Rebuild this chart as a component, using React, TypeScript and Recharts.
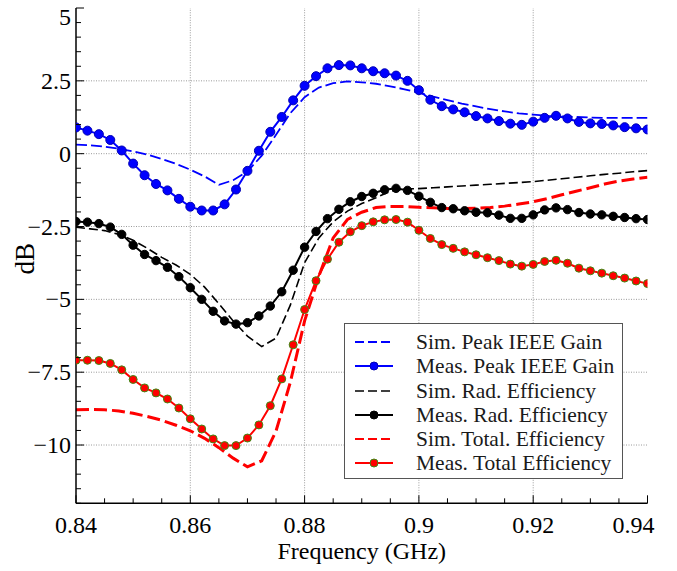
import React from 'react';
import { LineChart, Line, XAxis, YAxis, ReferenceLine } from 'recharts';

/* ------------------------------------------------------------------ */
/*  Data                                      */
/* ------------------------------------------------------------------ */

// measurement sweep, 2 MHz step
const measFreq = [
  0.84, 0.842, 0.844, 0.846, 0.848, 0.85, 0.852, 0.854, 0.856, 0.858,
  0.86, 0.862, 0.864, 0.866, 0.868, 0.87, 0.872, 0.874, 0.876, 0.878,
  0.88, 0.882, 0.884, 0.886, 0.888, 0.89, 0.892, 0.894, 0.896, 0.898,
  0.9, 0.902, 0.904, 0.906, 0.908, 0.91, 0.912, 0.914, 0.916, 0.918,
  0.92, 0.922, 0.924, 0.926, 0.928, 0.93, 0.932, 0.934, 0.936, 0.938,
  0.94,
];
const measGain = [
  0.9, 0.79, 0.67, 0.47, 0.11, -0.34, -0.74, -1.04, -1.26, -1.55,
  -1.82, -1.95, -1.95, -1.74, -1.23, -0.59, 0.1, 0.75, 1.26, 1.83,
  2.33, 2.66, 2.93, 3.04, 3.03, 2.93, 2.83, 2.76, 2.68, 2.5,
  2.18, 1.85, 1.63, 1.52, 1.42, 1.29, 1.21, 1.12, 1.03, 0.99,
  1.1, 1.23, 1.3, 1.21, 1.09, 1.04, 1.02, 0.97, 0.91, 0.87,
  0.83,
];
const measRad = [
  -2.33, -2.35, -2.4, -2.52, -2.77, -3.14, -3.46, -3.67, -3.9, -4.22,
  -4.6, -5.0, -5.41, -5.74, -5.85, -5.8, -5.57, -5.23, -4.74, -4.0,
  -3.21, -2.67, -2.23, -1.91, -1.65, -1.47, -1.36, -1.24, -1.19, -1.26,
  -1.46, -1.67, -1.85, -1.89, -1.96, -2.01, -2.03, -2.11, -2.22, -2.22,
  -2.1, -1.93, -1.86, -1.92, -2.02, -2.07, -2.1, -2.15, -2.19, -2.23,
  -2.26,
];
const measTotal = [
  -7.09, -7.09, -7.1, -7.2, -7.42, -7.75, -8.04, -8.21, -8.42, -8.73,
  -9.1, -9.45, -9.79, -10.02, -10.02, -9.76, -9.31, -8.65, -7.73, -6.56,
  -5.35, -4.36, -3.62, -3.04, -2.68, -2.47, -2.34, -2.27, -2.26, -2.35,
  -2.63, -2.91, -3.12, -3.25, -3.37, -3.47, -3.57, -3.67, -3.79, -3.86,
  -3.8, -3.7, -3.66, -3.76, -3.93, -4.02, -4.1, -4.19, -4.27, -4.37,
  -4.46,
];

// simulation sweep, 2.5 MHz step
const simFreq = [
  0.84, 0.8425, 0.845, 0.8475, 0.85, 0.8525, 0.855, 0.8575, 0.86, 0.8625,
  0.865, 0.8675, 0.87, 0.8725, 0.875, 0.8775, 0.88, 0.8825, 0.885, 0.8875,
  0.89, 0.8925, 0.895, 0.8975, 0.9, 0.9025, 0.905, 0.9075, 0.91, 0.9125,
  0.915, 0.9175, 0.92, 0.9225, 0.925, 0.9275, 0.93, 0.9325, 0.935, 0.9375,
  0.94,
];
const simGain = [
  0.31, 0.29, 0.24, 0.17, 0.08, -0.03, -0.18, -0.35, -0.55, -0.78,
  -1.07, -0.91, -0.61, -0.07, 0.65, 1.39, 1.94, 2.27, 2.42, 2.48,
  2.45, 2.4, 2.31, 2.21, 2.09, 1.96, 1.84, 1.72, 1.62, 1.53,
  1.45, 1.38, 1.34, 1.3, 1.28, 1.26, 1.24, 1.23, 1.23, 1.23,
  1.23,
];
const simRad = [
  -2.52, -2.58, -2.64, -2.77, -2.97, -3.25, -3.56, -3.82, -4.14, -4.58,
  -5.15, -5.74, -6.26, -6.62, -6.33, -5.2, -3.74, -2.89, -2.34, -1.97,
  -1.71, -1.51, -1.29, -1.21, -1.2, -1.17, -1.14, -1.11, -1.08, -1.05,
  -1.02, -0.99, -0.96, -0.91, -0.86, -0.81, -0.76, -0.71, -0.67, -0.62,
  -0.58,
];
const simTotal = [
  -8.79, -8.78, -8.79, -8.83, -8.91, -9.02, -9.15, -9.32, -9.51, -9.77,
  -10.09, -10.45, -10.75, -10.54, -9.52, -7.85, -5.74, -4.2, -2.89, -2.26,
  -2.01, -1.85, -1.81, -1.81, -1.84, -1.86, -1.88, -1.88, -1.87, -1.85,
  -1.8, -1.73, -1.65, -1.54, -1.41, -1.29, -1.17, -1.04, -0.94, -0.87,
  -0.81,
];

const xMajorTicks = [0.84, 0.86, 0.88, 0.9, 0.92, 0.94];
const yMajorTicks = [-10, -7.5, -5, -2.5, 0, 2.5, 5];

const seriesNames = [
  'Sim. Peak IEEE Gain',
  'Meas. Peak IEEE Gain',
  'Sim. Rad. Efficiency',
  'Meas. Rad. Efficiency',
  'Sim. Total. Efficiency',
  'Meas. Total Efficiency',
];

/* ------------------------------------------------------------------ */
/*  Styling                                                            */
/* ------------------------------------------------------------------ */

const BLUE = '#0000ff';
const RED = '#ff0000';
const BLACK = '#000000';
const GREEN_EDGE = '#3c8c14';
const GRID = '#9a9a9a';
const SERIF = 'Liberation Serif, DejaVu Serif, serif';

const W = 677;
const H = 571;

const zip = (xs: number[], ys: number[]) => xs.map((f, i) => ({ f, v: ys[i] }));

const seriesData = [
  zip(simFreq, simGain),
  zip(measFreq, measGain),
  zip(simFreq, simRad),
  zip(measFreq, measRad),
  zip(simFreq, simTotal),
  zip(measFreq, measTotal),
];

const seriesStyle = [
  { stroke: BLUE, width: 1.8, dash: '11 4', dot: null },
  { stroke: BLUE, width: 2, dash: undefined, dot: { r: 4.5, fill: BLUE, stroke: '#0000b4', strokeWidth: 1 } },
  { stroke: BLACK, width: 1.6, dash: '9 4', dot: null },
  { stroke: BLACK, width: 2, dash: undefined, dot: { r: 4.2, fill: BLACK, stroke: BLACK, strokeWidth: 1 } },
  { stroke: RED, width: 3, dash: '13 5', dot: null },
  { stroke: RED, width: 2, dash: undefined, dot: { r: 4, fill: RED, stroke: GREEN_EDGE, strokeWidth: 1 } },
];

// minor ticks every 5 MHz / 0.5 dB
const xTicks = Array.from({ length: 21 }, (_, i) => Math.round((0.84 + i * 0.005) * 1000) / 1000);
const yTicks = Array.from({ length: 35 }, (_, i) => -12 + i * 0.5);

const isMajorX = (v: number) => Math.round(v * 1000) % 20 === 0;
const isMajorY = (v: number) => Math.round(v * 2) % 5 === 0;
const fmtY = (v: number) => (v < 0 ? `\u2212${Math.abs(v)}` : String(v));

/* ------------------------------------------------------------------ */
/*  Tick renderers (inward ticks on all four sides)                    */
/* ------------------------------------------------------------------ */

function BottomTick({ x, y, payload }: any) {
  const v = payload.value;
  const major = isMajorX(v);
  const tx = v >= 0.94 ? x - 14 : x;
  return (
    <g>
      <line x1={x} x2={x} y1={y} y2={y - (major ? 8 : 5)} stroke={BLACK} />
      {major && (
        <text x={tx} y={y + 30} textAnchor="middle" fontFamily={SERIF} fontSize={24} fill={BLACK}>
          {String(v)}
        </text>
      )}
    </g>
  );
}

function TopTick({ x, y, payload }: any) {
  const major = isMajorX(payload.value);
  return <line x1={x} x2={x} y1={y} y2={y + (major ? 8 : 5)} stroke={BLACK} />;
}

function LeftTick({ x, y, payload }: any) {
  const v = payload.value;
  const major = isMajorY(v);
  const ty = v >= 5 ? y + 9 : y;
  return (
    <g>
      <line x1={x} x2={x + (major ? 8 : 5)} y1={y} y2={y} stroke={BLACK} />
      {major && (
        <text x={x - 5} y={ty + 8} textAnchor="end" fontFamily={SERIF} fontSize={24} fill={BLACK}>
          {fmtY(v)}
        </text>
      )}
    </g>
  );
}

function RightTick({ x, y, payload }: any) {
  const major = isMajorY(payload.value);
  return <line x1={x} x2={x - (major ? 8 : 5)} y1={y} y2={y} stroke={BLACK} />;
}

function YTitle({ viewBox }: any) {
  const cy = viewBox.y + viewBox.height / 2 + 3;
  return (
    <text x={34} y={cy} transform={`rotate(-90 34 ${cy})`} textAnchor="middle" fontFamily={SERIF} fontSize={27} fill={BLACK}>
      dB
    </text>
  );
}

/* ------------------------------------------------------------------ */
/*  Legend box                                                         */
/* ------------------------------------------------------------------ */

function LegendBox() {
  return (
    <div
      style={{
        position: 'absolute',
        left: 344,
        top: 323,
        width: 279,
        height: 156,
        boxSizing: 'border-box',
        border: '1px solid #555',
        background: '#fff',
        paddingTop: 6,
        fontFamily: SERIF,
        fontSize: 21.5,
        color: '#1a1a1a',
      }}
    >
      {seriesNames.map((name, i) => {
        const s = seriesStyle[i];
        return (
          <div key={name} style={{ position: 'relative', height: 24.3, lineHeight: '24.3px' }}>
            <svg width={44} height={14} style={{ position: 'absolute', left: 8, top: 5 }}>
              <line x1={2} x2={40} y1={7} y2={7} stroke={s.stroke} strokeWidth={s.dash ? Math.min(s.width, 2) : 2} strokeDasharray={s.dash ? '9 4' : undefined} />
              {s.dot && <circle cx={21} cy={7} r={4} fill={s.dot.fill} stroke={s.dot.stroke} />}
            </svg>
            <span style={{ position: 'absolute', left: 71, top: 0, whiteSpace: 'nowrap' }}>{name}</span>
          </div>
        );
      })}
    </div>
  );
}

/* ------------------------------------------------------------------ */
/*  Chart                                                              */
/* ------------------------------------------------------------------ */

export default function App() {
  return (
    <div style={{ position: 'absolute', left: 0, top: 0, width: W, height: H, background: '#fff' }}>
      <LineChart width={W} height={H} margin={{ top: 8, right: 29.5, bottom: 0, left: 0 }}>
        <XAxis
          dataKey="f"
          type="number"
          domain={[0.84, 0.94]}
          allowDataOverflow
          ticks={xTicks}
          interval={0}
          tickSize={0}
          tickMargin={0}
          tickLine={false}
          height={67.7}
          axisLine={{ stroke: BLACK, strokeWidth: 1.5 }}
          tick={<BottomTick />}
          label={{
            value: 'Frequency (GHz)',
            position: 'insideBottom',
            offset: 12,
            fill: BLACK,
            fontSize: 24,
            fontFamily: SERIF,
          }}
        />
        <XAxis
          xAxisId="top"
          orientation="top"
          dataKey="f"
          type="number"
          domain={[0.84, 0.94]}
          allowDataOverflow
          ticks={xTicks}
          interval={0}
          tickSize={0}
          tickMargin={0}
          tickLine={false}
          height={0}
          axisLine={{ stroke: BLACK, strokeWidth: 1.5 }}
          tick={<TopTick />}
        />
        <YAxis
          type="number"
          domain={[-12, 5]}
          allowDataOverflow
          ticks={yTicks}
          interval={0}
          tickSize={0}
          tickMargin={0}
          tickLine={false}
          width={76}
          axisLine={{ stroke: BLACK, strokeWidth: 1.5 }}
          tick={<LeftTick />}
          label={<YTitle />}
        />
        <YAxis
          yAxisId="right"
          orientation="right"
          type="number"
          domain={[-12, 5]}
          allowDataOverflow
          ticks={yTicks}
          interval={0}
          tickSize={0}
          tickMargin={0}
          tickLine={false}
          width={0}
          axisLine={{ stroke: BLACK, strokeWidth: 1.5 }}
          tick={<RightTick />}
        />

        {/* dotted grid at the major ticks */}
        {xMajorTicks.slice(1, -1).map((t) => (
          <ReferenceLine key={`gx${t}`} x={t} stroke={GRID} strokeDasharray="1 1.5" />
        ))}
        {yMajorTicks.slice(0, -1).map((t) => (
          <ReferenceLine key={`gy${t}`} y={t} stroke={GRID} strokeDasharray="1 1.5" />
        ))}

        {seriesData.map((d, i) => {
          const s = seriesStyle[i];
          return (
            <Line
              key={seriesNames[i]}
              data={d}
              dataKey="v"
              name={seriesNames[i]}
              type="linear"
              stroke={s.stroke}
              strokeWidth={s.width}
              strokeDasharray={s.dash}
              dot={s.dot ? s.dot : false}
              activeDot={false}
              isAnimationActive={false}
            />
          );
        })}
      </LineChart>
      <LegendBox />
    </div>
  );
}
